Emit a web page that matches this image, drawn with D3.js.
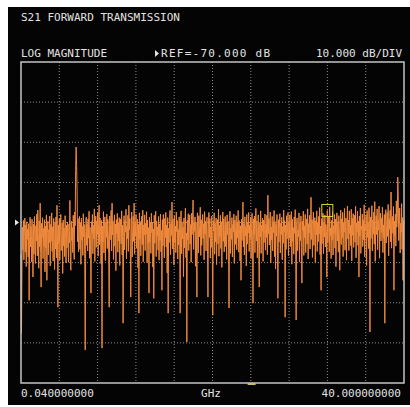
<!DOCTYPE html>
<html>
<head>
<meta charset="utf-8">
<script src="https://cdn.jsdelivr.net/npm/d3@7"></script>
<style>
  body { margin: 0; background: #fff; }
  text { font-family: "DejaVu Sans Mono", monospace; font-size: 11px; fill: #e2e2e2; }
</style>
</head>
<body>
<script>
"use strict";

// analyzer sweep settings
const freqStart = 0.04
const freqStop = 40
const refLevel = -70
const dbPerDiv = 10
const yDomain = [-110, -30]

// S21 trace, dB, 800 sweep points
const s21 = [
  -78.0, -97.6, -80.5, -71.2, -76.8, -69.5, -79.3, -72.1, -68.9, -77.4, -70.6, -81.0, -69.8, -74.2, -71.7, -78.6, -70.3, -89.4, -73.5, -68.7,
  -76.1, -71.0, -79.8, -69.2, -75.5, -83.6, -70.4, -77.9, -68.5, -73.3, -80.2, -70.8, -74.6, -67.9, -78.3, -66.9, -72.7, -81.4, -69.6, -76.0,
  -65.2, -77.7, -86.1, -70.2, -73.8, -68.8, -79.0, -71.5, -75.9, -69.3, -82.3, -70.9, -76.4, -68.1, -84.4, -72.4, -69.7, -78.1, -71.8, -75.0,
  -68.4, -80.8, -70.5, -74.7, -67.6, -77.2, -71.1, -79.6, -69.0, -73.0, -81.7, -70.0, -76.6, -68.6, -78.8, -65.7, -72.9, -91.1, -70.7, -75.3,
  -69.1, -79.4, -71.9, -68.0, -77.0, -73.7, -70.1, -82.7, -69.4, -75.8, -71.4, -78.5, -68.3, -74.0, -80.1, -70.6, -76.3, -69.9, -73.4, -79.9,
  -70.4, -75.1, -64.5, -78.7, -81.9, -69.7, -74.5, -71.3, -77.5, -68.2, -73.2, -79.2, -67.4, -70.8, -57.0, -51.2, -55.8, -62.0, -74.8, -69.0,
  -77.3, -71.6, -68.5, -76.7, -70.0, -80.4, -68.9, -74.4, -71.0, -78.2, -67.8, -73.6, -70.5, -79.0, -101.8, -72.2, -68.7, -75.7, -70.3, -77.1,
  -69.1, -73.9, -67.2, -78.9, -71.2, -75.4, -87.6, -69.8, -72.6, -68.0, -77.8, -70.7, -74.1, -66.6, -79.7, -71.1, -68.4, -76.2, -69.6, -73.0,
  -67.5, -78.4, -70.2, -65.7, -75.6, -68.9, -72.3, -80.3, -69.5, -101.3, -70.9, -74.9, -67.3, -77.6, -71.4, -68.6, -79.5, -70.1, -73.7, -67.9,
  -76.5, -69.2, -72.0, -78.0, -91.1, -68.4, -74.3, -70.6, -67.0, -77.1, -65.2, -73.1, -69.7, -79.2, -71.7, -68.1, -75.9, -70.4, -82.0, -69.3,
  -72.8, -67.7, -77.4, -70.0, -74.6, -68.8, -80.7, -71.2, -69.1, -75.3, -67.1, -78.1, -70.7, -95.1, -73.5, -68.3, -76.8, -69.5, -72.4, -66.7,
  -79.1, -70.9, -74.0, -68.2, -77.2, -65.7, -71.8, -69.0, -76.0, -88.6, -70.3, -67.4, -78.6, -72.1, -68.5, -74.7, -65.2, -77.9, -70.1, -73.3,
  -68.0, -76.4, -71.5, -69.2, -81.3, -70.5, -92.6, -67.6, -74.2, -69.8, -78.3, -71.0, -68.4, -75.5, -66.9, -79.8, -70.6, -73.1, -68.1, -77.0,
  -70.2, -72.9, -67.3, -80.0, -69.4, -75.1, -71.3, -87.6, -68.7, -74.8, -70.0, -77.7, -67.7, -72.5, -69.9, -81.1, -71.6, -88.9, -68.2, -75.2,
  -70.8, -67.2, -78.5, -69.6, -73.4, -71.1, -76.9, -68.5, -79.4, -70.4, -74.5, -67.9, -77.3, -72.0, -86.9, -69.3, -75.8, -68.0, -71.9, -78.8,
  -69.0, -73.8, -67.5, -76.1, -70.6, -82.6, -68.8, -92.6, -71.4, -75.0, -69.7, -67.0, -78.0, -70.3, -73.2, -64.9, -76.6, -69.1, -72.7, -80.6,
  -68.3, -74.9, -70.9, -77.5, -67.4, -72.3, -69.5, -79.1, -71.7, -75.6, -68.6, -73.9, -92.6, -70.1, -67.1, -77.8, -69.8, -74.1, -71.2, -83.5,
  -68.9, -76.3, -70.7, -66.4, -78.7, -72.6, -99.8, -69.4, -74.3, -67.8, -77.0, -71.0, -68.1, -75.4, -70.5, -79.9, -67.7, -73.0, -69.2, -64.4,
  -76.7, -70.0, -72.2, -68.6, -80.9, -69.9, -74.6, -88.6, -67.6, -71.5, -77.6, -68.3, -73.6, -70.8, -66.2, -78.2, -69.3, -75.7, -71.8, -68.0,
  -74.0, -70.3, -79.3, -67.3, -72.8, -69.7, -77.1, -71.3, -68.7, -75.9, -88.6, -70.6, -67.5, -73.7, -69.0, -78.9, -71.1, -76.2, -68.4, -74.4,
  -93.1, -69.6, -72.1, -67.6, -77.9, -70.2, -74.8, -68.9, -80.5, -71.6, -69.3, -75.3, -66.7, -78.4, -70.7, -73.5, -68.2, -76.5, -69.8, -81.2,
  -70.4, -67.4, -74.7, -69.1, -77.3, -71.9, -68.5, -76.0, -70.0, -79.2, -68.1, -73.0, -69.7, -75.1, -91.3, -70.9, -67.2, -77.7, -71.4, -74.2,
  -68.8, -78.6, -70.5, -72.4, -67.9, -80.2, -69.4, -75.5, -71.2, -68.3, -76.8, -70.1, -73.8, -67.0, -77.4, -69.5, -72.9, -79.6, -70.8, -84.4,
  -69.2, -74.5, -71.7, -64.9, -76.1, -70.3, -78.1, -68.6, -73.3, -71.0, -80.8, -68.0, -75.4, -69.9, -72.6, -67.5, -77.2, -70.6, -74.0, -68.7,
  -79.0, -71.5, -67.7, -75.8, -90.1, -69.1, -73.1, -68.4, -77.5, -70.2, -66.5, -74.6, -69.6, -78.8, -71.3, -68.1, -76.4, -86.1, -70.0, -73.6,
  -67.1, -77.7, -70.7, -72.2, -68.9, -79.7, -69.4, -75.0, -71.8, -67.9, -76.9, -70.4, -73.7, -68.2, -78.0, -63.2, -72.8, -69.0, -75.6, -70.8,
  -67.4, -80.1, -71.1, -74.3, -68.5, -77.1, -70.0, -72.5, -67.0, -78.5, -69.7, -81.6, -70.5, -73.4, -68.0, -76.2, -88.9, -69.3, -74.9, -71.4,
  -67.8, -77.6, -70.2, -73.0, -68.7, -79.3, -71.0, -75.2, -66.9, -72.3, -69.5, -93.6, -70.6, -76.7, -68.3, -74.1, -71.6, -67.5, -78.3, -69.8,
  -73.9, -68.1, -76.0, -70.9, -67.3, -80.4, -69.2, -74.7, -71.3, -77.9, -68.6, -72.7, -66.8, -75.9, -94.3, -70.4, -68.9, -77.0, -71.9, -73.5,
  -67.6, -79.8, -70.1, -74.5, -68.4, -76.3, -85.1, -69.7, -72.0, -67.2, -78.2, -70.8, -73.8, -68.0, -77.5, -71.2, -69.1, -75.4, -66.6, -79.1,
  -70.3, -72.6, -68.2, -76.6, -71.5, -63.7, -74.2, -69.3, -78.7, -70.7, -67.4, -75.7, -71.8, -68.8, -80.0, -69.6, -73.1, -67.1, -77.2, -70.0,
  -74.8, -68.5, -72.9, -66.3, -78.0, -70.9, -86.9, -69.0, -75.3, -71.1, -67.7, -77.8, -69.9, -73.6, -68.1, -76.1, -70.5, -72.2, -83.6, -67.0,
  -75.0, -70.2, -68.6, -77.3, -66.1, -73.3, -71.4, -79.0, -69.5, -74.4, -67.3, -78.1, -70.8, -72.7, -68.0, -76.4, -69.2, -81.0, -71.6, -67.6,
  -74.6, -69.8, -77.4, -68.3, -72.1, -81.9, -70.6, -66.9, -75.5, -69.1, -73.9, -67.5, -78.5, -70.0, -72.4, -66.5, -76.9, -71.3, -68.9, -79.4,
  -70.4, -65.9, -74.1, -69.4, -77.0, -67.1, -72.8, -70.7, -75.8, -66.7, -79.6, -69.0, -73.2, -67.8, -76.2, -71.1, -68.2, -74.9, -66.0, -78.8,
  -70.1, -72.3, -67.2, -75.7, -69.7, -83.6, -68.4, -73.4, -66.4, -77.7, -70.9, -71.8, -67.9, -76.0, -69.3, -74.3, -65.6, -78.6, -70.5, -72.0,
  -68.1, -80.7, -67.0, -73.7, -69.9, -76.5, -66.3, -71.5, -97.3, -68.6, -74.0, -70.3, -65.8, -77.1, -69.4, -72.9, -67.4, -75.4, -64.8, -79.7,
  -70.8, -68.3, -73.0, -66.6, -76.8, -69.5, -71.9, -65.9, -78.9, -70.0, -67.7, -74.6, -69.0, -72.5, -66.2, -77.5, -70.6, -73.8, -68.0, -95.1,
  -69.6, -66.8, -75.1, -70.4, -67.5, -73.5, -65.5, -78.3, -69.2, -71.7, -67.0, -74.8, -62.4, -76.4, -70.1, -68.5, -72.7, -66.0, -86.9, -69.7,
  -73.2, -67.9, -75.9, -64.6, -71.2, -68.7, -58.7, -63.5, -74.5, -69.1, -66.4, -77.6, -70.2, -72.4, -65.3, -76.7, -68.8, -84.4, -71.0, -69.5
]

// marker 1 and the stimulus pointer under the graticule
const marker = { freq: 32.0, db: -67.0 }
const stimPointer = 24.1

const m = { width: 410, height: 407, left: 21, right: 404, top: 62, bottom: 383 }

const svg = d3.select("body").append("svg")
    .attr("width", m.width)
    .attr("height", m.height)

// crt screen
svg.append("rect")
    .attr("x", 8).attr("y", 7)
    .attr("width", m.width - 8).attr("height", 398)
    .attr("fill", "#040404")

const x = d3.scaleLinear().domain([freqStart, freqStop]).range([m.left, m.right])
const y = d3.scaleLinear().domain(yDomain).range([m.bottom, m.top])

const g = svg.append("g")

// graticule, 10 x 8 divisions
const xDivs = d3.range(1, 10).map(k => freqStart + k * (freqStop - freqStart) / 10)
const yDivs = d3.range(yDomain[0] + dbPerDiv, yDomain[1], dbPerDiv)

g.selectAll(".vgrid")
    .data(xDivs)
    .enter()
    .append("line")
    .attr("x1", d => x(d)).attr("x2", d => x(d))
    .attr("y1", m.top).attr("y2", m.bottom)
    .attr("stroke", "#8c8c8c")
    .attr("stroke-dasharray", "1,2")

g.selectAll(".hgrid")
    .data(yDivs)
    .enter()
    .append("line")
    .attr("x1", m.left).attr("x2", m.right)
    .attr("y1", d => y(d)).attr("y2", d => y(d))
    .attr("stroke", "#8c8c8c")
    .attr("stroke-dasharray", "1,2")

// trace
const line = d3.line()
    .x((d, i) => x(freqStart + i * (freqStop - freqStart) / (s21.length - 1)))
    .y(d => y(d))

g.append("path")
    .datum(s21)
    .attr("d", line)
    .attr("fill", "none")
    .attr("stroke", "#f0893c")
    .attr("stroke-width", 1)

// frame
g.append("rect")
    .attr("x", m.left).attr("y", m.top)
    .attr("width", m.right - m.left).attr("height", m.bottom - m.top)
    .attr("fill", "none")
    .attr("stroke", "#c4c4c4")
    .attr("stroke-width", 1.5)

// marker box
g.append("rect")
    .attr("x", x(marker.freq) - 5.5).attr("y", y(marker.db) - 6)
    .attr("width", 11).attr("height", 12)
    .attr("fill", "none")
    .attr("stroke", "#d9d23a")
    .attr("stroke-width", 1)

g.append("line")
    .attr("x1", x(stimPointer) - 4).attr("x2", x(stimPointer) + 4)
    .attr("y1", m.bottom + 1).attr("y2", m.bottom + 1)
    .attr("stroke", "#cdbb6a")
    .attr("stroke-width", 2)

// reference level pointer
const ry = y(refLevel)
g.append("path")
    .attr("d", `M15,${ry - 3}L19,${ry}L15,${ry + 3}Z`)
    .attr("fill", "#e8e8e8")

// annotations
svg.append("text").attr("x", 21).attr("y", 21).text("S21 FORWARD TRANSMISSION")
svg.append("text").attr("x", 21).attr("y", 57).text("LOG MAGNITUDE")
svg.append("path")
    .attr("d", "M155,50L159,53.5L155,57Z")
    .attr("fill", "#e2e2e2")
svg.append("text").attr("x", 161).attr("y", 57)
    .attr("textLength", 109).attr("lengthAdjust", "spacing")
    .text("REF=-" + Math.abs(refLevel).toFixed(3) + " dB")
svg.append("text").attr("x", 402).attr("y", 57).attr("text-anchor", "end")
    .text(dbPerDiv.toFixed(3) + " dB/DIV")

svg.append("text").attr("x", 21).attr("y", 397).text(freqStart.toFixed(9))
svg.append("text").attr("x", 211).attr("y", 397).attr("text-anchor", "middle").text("GHz")
svg.append("text").attr("x", 401).attr("y", 397).attr("text-anchor", "end").text(freqStop.toFixed(9))
</script>
</body>
</html>
